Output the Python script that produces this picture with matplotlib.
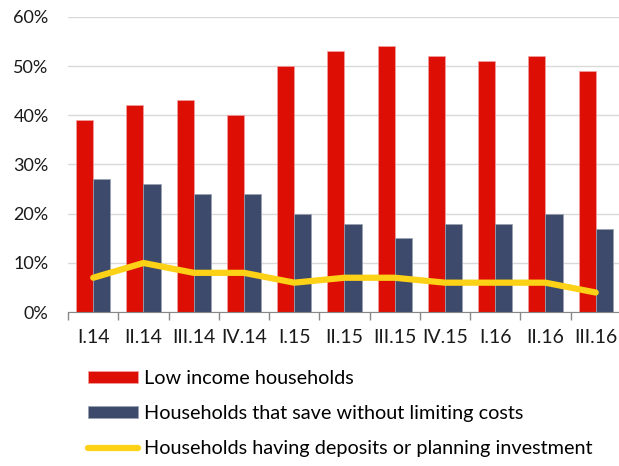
import matplotlib.pyplot as plt
import numpy as np
from matplotlib.ticker import FixedLocator, FuncFormatter

plt.rcParams['font.family'] = ['Lato', 'DejaVu Sans']

quarters = ['I.14', 'II.14', 'III.14', 'IV.14', 'I.15', 'II.15', 'III.15',
            'IV.15', 'I.16', 'II.16', 'III.16']
low_income = [39, 42, 43, 40, 50, 53, 54, 52, 51, 52, 49]
save_no_limit = [27, 26, 24, 24, 20, 18, 15, 18, 18, 20, 17]
deposits = [7, 10, 8, 8, 6, 7, 7, 6, 6, 6, 4]

red = '#dd0e04'
navy = '#3d4a6b'
yellow = '#fcd116'

fig = plt.figure(figsize=(6.19, 4.66), dpi=100)
ax = fig.add_axes([0.110, 0.330, 0.893, 0.634])

x = np.arange(len(quarters))
w = 0.34
b1 = ax.bar(x - w / 2, low_income, w, color=red, edgecolor='#f0a0a0', linewidth=0.5,
            label='Low income households', zorder=2)
b2 = ax.bar(x + w / 2, save_no_limit, w, color=navy, edgecolor='#9aa0b0', linewidth=0.5,
            label='Households that save without limiting costs', zorder=2)
l1, = ax.plot(x, deposits, color=yellow, linewidth=4.5, solid_capstyle='round',
              label='Households having deposits or planning investment', zorder=3)

ax.set_xlim(-0.5, len(quarters) - 0.5)
ax.set_ylim(0, 60)
ax.set_yticks(range(0, 61, 10))
ax.yaxis.set_major_formatter(FuncFormatter(lambda v, p: f'{int(v)}%'))
ax.yaxis.grid(True, color='#d9d9d9', linewidth=1)
ax.set_axisbelow(True)

ax.set_xticks(x)
ax.set_xticklabels(quarters)
ax.xaxis.set_minor_locator(FixedLocator(np.arange(-0.5, len(quarters), 1)))
ax.tick_params(axis='x', which='major', length=0, pad=12, labelsize=14, colors='#1a1a1a')
ax.tick_params(axis='x', which='minor', length=6, color='#888888', width=1)
ax.tick_params(axis='y', length=0, pad=14, labelsize=13, colors='#1a1a1a')

for s in ['top', 'right', 'left']:
    ax.spines[s].set_visible(False)
ax.spines['bottom'].set_color('#888888')

fig.legend(handles=[b1, b2, l1], loc='upper left', bbox_to_anchor=(0.13, 0.222),
           frameon=False, fontsize=14.3, handlelength=2.5, handleheight=0.55,
           labelspacing=0.9, handletextpad=0.3, borderaxespad=0)

fig.savefig('out.png', dpi=100)
